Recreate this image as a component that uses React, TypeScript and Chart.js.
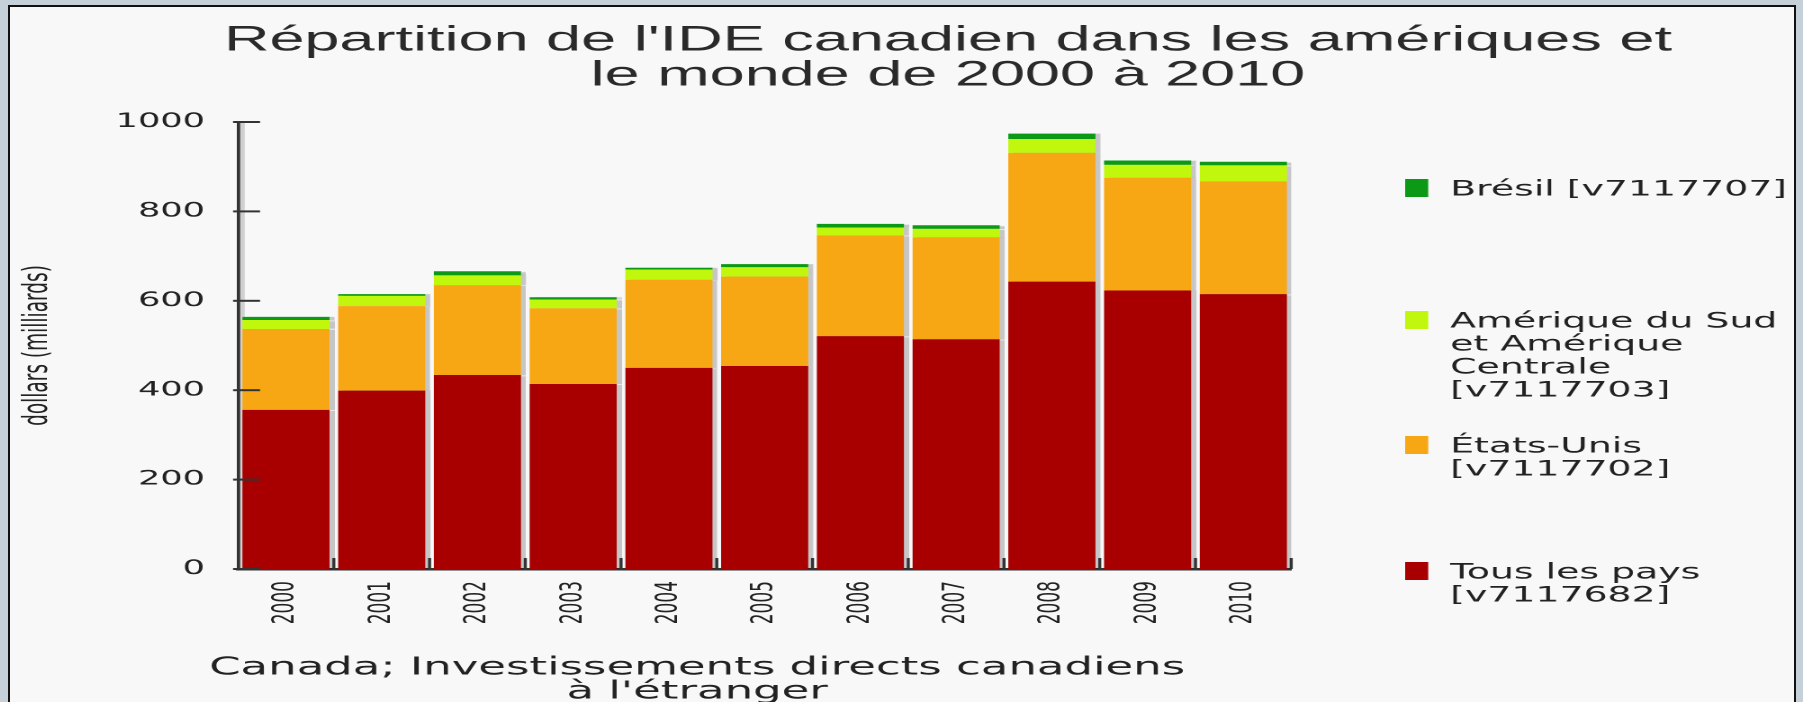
import React, { useEffect, useRef } from "react";
import { Chart, registerables } from "chart.js";

Chart.register(...registerables);

// ---------- data ----------
const years = ["2000", "2001", "2002", "2003", "2004", "2005", "2006", "2007", "2008", "2009", "2010"];
const tousLesPays = [356, 399, 434, 414, 450, 454, 521, 514, 643, 623, 615];
const etatsUnis = [181, 189, 201, 169, 197, 200, 225, 228, 288, 252, 252];
const ameriqueSudCentrale = [20, 23, 22, 20, 23, 21, 18, 19, 31, 29, 36];
const bresil = [7, 4, 9, 5, 4, 7, 8, 8, 12, 10, 8];

const seriesLabels = [
  "Tous les pays [v7117682]",
  "États-Unis [v7117702]",
  "Amérique du Sud et Amérique Centrale [v7117703]",
  "Brésil [v7117707]",
];
const legendLines = [
  ["Tous les pays", "[v7117682]"],
  ["États-Unis", "[v7117702]"],
  ["Amérique du Sud", "et Amérique", "Centrale", "[v7117703]"],
  ["Brésil [v7117707]"],
];
const seriesColors = ["#a80000", "#f7a614", "#c0f70c", "#0c9a16"];

const titleLines = ["Répartition de l'IDE canadien dans les amériques et", "le monde de 2000 à 2010"];
const yAxisTitle = "dollars (milliards)";
const xAxisTitleLines = ["Canada; Investissements directs canadiens", "à l'étranger"];
const yMin = 0;
const yMax = 1000;
const yStep = 200;

// ---------- layout (internal canvas units; canvas is stretched horizontally) ----------
const INTERNAL_W = 991;
const INTERNAL_H = 700;
const CSS_W = 1784;
const STRETCH = CSS_W / INTERNAL_W;
const TEXT = "#222222";
const AXIS = "#333333";

const decorPlugin = {
  id: "decor",
  beforeDatasetsDraw(chart: any) {
    const { ctx, chartArea: a } = chart;
    ctx.save();
    ctx.fillStyle = "rgba(0,0,0,0.16)";
    ctx.fillRect(a.left + 0.9, a.top, 2.8, a.bottom - a.top);
    ctx.restore();
    ctx.save();
    const r = chart.currentDevicePixelRatio || 1;
    ctx.shadowColor = "rgba(0,0,0,0.2)";
    ctx.shadowOffsetX = (5 * r) / STRETCH;
    ctx.shadowOffsetY = 0;
    ctx.shadowBlur = 1;
  },
  afterDatasetsDraw(chart: any) {
    const { ctx, chartArea: a, scales } = chart;
    ctx.restore();
    ctx.save();
    ctx.fillStyle = AXIS;
    const ys = scales.y;
    ys.ticks.forEach((t: any) => {
      const py = ys.getPixelForValue(t.value);
      ctx.fillRect(a.left - 2.8, py - 1, 15, 2);
    });
    const xs = scales.x;
    const n = chart.data.labels.length;
    for (let i = 1; i <= n; i++) {
      const px = i < n ? (xs.getPixelForValue(i) + xs.getPixelForValue(i - 1)) / 2 : a.right;
      ctx.fillRect(px - 0.85, a.bottom - 11, 1.7, 11);
    }
    ctx.restore();
  },
  afterDraw(chart: any) {
    const { ctx } = chart;
    ctx.save();
    ctx.fillStyle = "#2a2a2a";
    ctx.textAlign = "center";
    ctx.textBaseline = "middle";
    // chart title
    ctx.font = "35px 'Liberation Sans', Arial, sans-serif";
    const titleY = [34, 69];
    titleLines.forEach((line, i) => ctx.fillText(line, 521, titleY[i]));
    // bottom caption (x axis title)
    ctx.fillStyle = TEXT;
    ctx.font = "25px 'DejaVu Sans', Verdana, sans-serif";
    const capY = [661, 685];
    xAxisTitleLines.forEach((line, i) => ctx.fillText(line, 381.7, capY[i]));
    // legend
    ctx.textAlign = "left";
    ctx.font = "21px 'DejaVu Sans', Verdana, sans-serif";
    const ds = chart.data.datasets;
    const itemY = [183, 315, 440, 566];
    const order = ds.map((_: any, i: number) => i).reverse();
    order.forEach((di: number, k: number) => {
      const y0 = itemY[k];
      ctx.fillStyle = ds[di].backgroundColor;
      ctx.fillRect(775, y0 - 2 - 9, 12.8, 18);
      ctx.fillStyle = TEXT;
      legendLines[di].forEach((line, j) => ctx.fillText(line, 800, y0 + j * 23));
    });
    ctx.restore();
  },
};

export default function App() {
  const ref = useRef<HTMLCanvasElement>(null);

  useEffect(() => {
    const values = [tousLesPays, etatsUnis, ameriqueSudCentrale, bresil];
    const chart = new Chart(ref.current as HTMLCanvasElement, {
      type: "bar",
      data: {
        labels: years,
        datasets: values.map((v, i) => ({
          label: seriesLabels[i],
          data: v,
          backgroundColor: seriesColors[i],
          borderWidth: 0,
          categoryPercentage: 1,
          barPercentage: 0.91,
        })),
      },
      options: {
        animation: false,
        responsive: false,
        devicePixelRatio: 2,
        layout: { padding: { top: 115, right: INTERNAL_W - 711.7, left: 0, bottom: 0 } },
        plugins: {
          legend: { display: false },
          title: { display: false },
          tooltip: { enabled: false },
        },
        scales: {
          x: {
            stacked: true,
            grid: { display: false, drawTicks: false },
            border: { display: true, color: AXIS, width: 2.5 },
            ticks: {
              minRotation: 90,
              maxRotation: 90,
              autoSkip: false,
              padding: 12,
              color: TEXT,
              font: { family: "'DejaVu Sans', Verdana, sans-serif", size: 17 },
            },
            afterFit: (s: any) => {
              s.height = INTERNAL_H - 562;
            },
          },
          y: {
            stacked: true,
            min: yMin,
            max: yMax,
            grid: { display: false, drawTicks: false },
            border: { display: true, color: AXIS, width: 1.85 },
            ticks: {
              stepSize: yStep,
              padding: 18.4,
              color: TEXT,
              font: { family: "'DejaVu Sans', Verdana, sans-serif", size: 19.5 },
              callback: (v: any) => String(v),
            },
            title: {
              display: true,
              text: yAxisTitle,
              color: TEXT,
              font: { family: "'DejaVu Sans', Verdana, sans-serif", size: 18.5 },
              padding: { top: 4.4, bottom: 0 },
            },
            afterFit: (s: any) => {
              s.width = 126.7;
            },
          },
        },
      },
      plugins: [decorPlugin],
    } as any);
    return () => chart.destroy();
  }, []);

  return (
    <div style={{ position: "fixed", inset: 0, background: "#c5d0d8", overflow: "hidden" }}>
      <div
        style={{
          position: "absolute",
          left: 8,
          top: 5,
          width: 1788,
          height: 720,
          boxSizing: "border-box",
          borderLeft: "2px solid #111",
          borderTop: "2px solid #111",
          borderRight: "2px solid #111",
          background: "#f8f8f8",
        }}
      >
        <canvas
          ref={ref}
          width={INTERNAL_W}
          height={INTERNAL_H}
          style={{ position: "absolute", left: 0, top: 0, width: CSS_W + "px", height: INTERNAL_H + "px", display: "block" }}
        />
      </div>
    </div>
  );
}
